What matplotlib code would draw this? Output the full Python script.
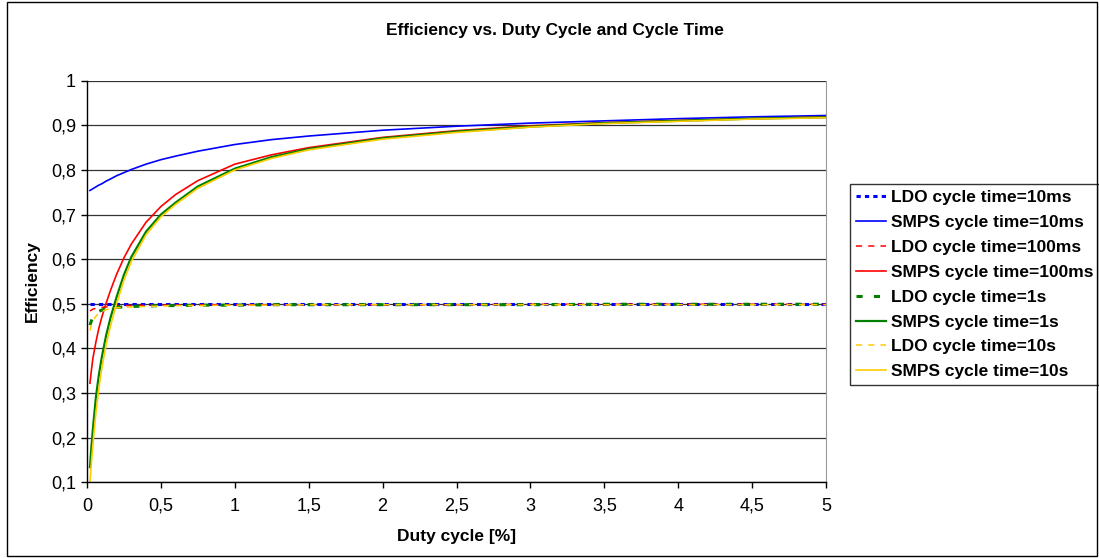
"""Efficiency vs. duty cycle for LDO and SMPS supplies at four cycle times.

Values are read off the original Excel chart; writes out.png.
"""

import matplotlib

matplotlib.use("Agg")
import matplotlib.pyplot as plt
from matplotlib.patches import Rectangle
from matplotlib.ticker import FuncFormatter, MultipleLocator

plt.rcParams["font.family"] = ["Liberation Sans", "DejaVu Sans"]

# duty cycle [%] shared by all series
duty = [0.02, 0.03, 0.04, 0.06, 0.08, 0.1, 0.13, 0.16, 0.2, 0.25, 0.3, 0.4, 0.5,
        0.6, 0.75, 1.0, 1.25, 1.5, 2.0, 2.5, 3.0, 3.5, 4.0, 4.5, 5.0]

ldo_10ms = [0.499, 0.499, 0.499, 0.499, 0.499, 0.499, 0.499, 0.499, 0.499, 0.499, 0.499, 0.499, 0.499,
            0.499, 0.499, 0.499, 0.499, 0.499, 0.499, 0.499, 0.499, 0.499, 0.499, 0.499, 0.499]
smps_10ms = [0.754, 0.756, 0.758, 0.762, 0.766, 0.769, 0.775, 0.780, 0.787, 0.794, 0.801, 0.813, 0.823,
             0.831, 0.842, 0.857, 0.868, 0.876, 0.889, 0.898, 0.905, 0.910, 0.915, 0.919, 0.922]
ldo_100ms = [0.484, 0.486, 0.488, 0.490, 0.491, 0.492, 0.493, 0.494, 0.495, 0.496, 0.496, 0.497, 0.497,
             0.497, 0.498, 0.498, 0.498, 0.498, 0.498, 0.498, 0.499, 0.499, 0.499, 0.499, 0.499]
smps_100ms = [0.322, 0.352, 0.378, 0.414, 0.445, 0.470, 0.502, 0.531, 0.566, 0.603, 0.634, 0.683, 0.718,
              0.745, 0.776, 0.813, 0.834, 0.850, 0.873, 0.888, 0.899, 0.906, 0.911, 0.915, 0.919]
ldo_1s = [0.452, 0.462, 0.470, 0.478, 0.483, 0.486, 0.489, 0.491, 0.492, 0.493, 0.494, 0.495, 0.496,
          0.496, 0.497, 0.497, 0.498, 0.498, 0.498, 0.498, 0.498, 0.499, 0.499, 0.499, 0.499]
smps_1s = [0.134, 0.180, 0.220, 0.290, 0.340, 0.380, 0.430, 0.470, 0.515, 0.565, 0.605, 0.662, 0.700,
           0.727, 0.763, 0.803, 0.829, 0.847, 0.871, 0.886, 0.897, 0.905, 0.910, 0.915, 0.918]
ldo_10s = [0.440, 0.453, 0.462, 0.472, 0.479, 0.483, 0.487, 0.489, 0.491, 0.492, 0.493, 0.494, 0.495,
           0.496, 0.496, 0.497, 0.497, 0.498, 0.498, 0.498, 0.498, 0.498, 0.498, 0.498, 0.498]
smps_10s = [0.100, 0.145, 0.185, 0.255, 0.310, 0.355, 0.410, 0.452, 0.500, 0.553, 0.595, 0.655, 0.695,
            0.723, 0.759, 0.800, 0.826, 0.845, 0.869, 0.884, 0.896, 0.904, 0.909, 0.914, 0.917]

labels = ["LDO cycle time=10ms", "SMPS cycle time=10ms",
          "LDO cycle time=100ms", "SMPS cycle time=100ms",
          "LDO cycle time=1s", "SMPS cycle time=1s",
          "LDO cycle time=10s", "SMPS cycle time=10s"]

BLUE, RED, GREEN, YELLOW = "#0000FF", "#FF0000", "#008000", "#FFCC00"

W, H = 1099, 558


def comma(v, _pos):
    return f"{v:g}".replace(".", ",")


def main() -> None:
    fig = plt.figure(figsize=(W / 100, H / 100), dpi=100)
    ax = fig.add_axes([87 / W, 1 - 482.3 / H, (826 - 87) / W, (482.3 - 80.7) / H])

    # (series, colour, linewidth, dashes or None)
    styles = [
        (ldo_10ms, BLUE, 2.2, (1.4, 1.35)),
        (smps_10ms, BLUE, 1.2, None),
        (ldo_100ms, RED, 1.1, (4, 4)),
        (smps_100ms, RED, 1.2, None),
        (ldo_1s, GREEN, 2.2, (2, 3.7)),
        (smps_1s, GREEN, 1.6, None),
        (ldo_10s, YELLOW, 1.1, (4, 4)),
        (smps_10s, YELLOW, 1.2, None),
    ]
    for (vals, col, lw, dash), lab in zip(styles, labels):
        if dash:
            ax.plot(duty, vals, color=col, lw=lw, dashes=dash, label=lab)
        else:
            ax.plot(duty, vals, color=col, lw=lw, label=lab)

    ax.set_xlim(0, 5)
    ax.set_ylim(0.1, 1)
    ax.xaxis.set_major_locator(MultipleLocator(0.5))
    ax.yaxis.set_major_locator(MultipleLocator(0.1))
    ax.xaxis.set_major_formatter(FuncFormatter(comma))
    ax.yaxis.set_major_formatter(FuncFormatter(comma))
    ax.tick_params(direction="out", length=4, width=1, labelsize=13, colors="black")
    ax.tick_params(axis="x", pad=7)
    ax.tick_params(axis="y", pad=4)
    ax.grid(axis="y", color="#333333", lw=0.9)
    ax.set_axisbelow(True)
    ax.spines["top"].set_visible(False)
    ax.spines["right"].set_color("#999999")
    for s in ("left", "bottom"):
        ax.spines[s].set_color("black")
        ax.spines[s].set_linewidth(1)

    bold = {"fontsize": 12.5, "fontweight": "bold", "ha": "center", "va": "center"}
    fig.text(457 / W, 1 - 537 / H, "Duty cycle [%]", **bold)
    fig.text(32 / W, 1 - 281 / H, "Efficiency", rotation=90, **bold)
    fig.text(555 / W, 1 - 31 / H, "Efficiency vs. Duty Cycle and Cycle Time", **bold)

    leg = ax.legend(loc="upper left", bbox_to_anchor=(850 / W, 1 - 184 / H),
                    bbox_transform=fig.transFigure, frameon=True, fancybox=False,
                    prop={"size": 12.5, "weight": "bold"}, handlelength=1.75,
                    handletextpad=0.25, labelspacing=0.56, borderpad=0.35, borderaxespad=0)
    leg.get_frame().set_edgecolor("black")
    leg.get_frame().set_linewidth(1)

    fig.patches.append(Rectangle((7 / W, 2 / H), (1097 - 7) / W, (556 - 2) / H,
                                 transform=fig.transFigure, fill=False,
                                 edgecolor="black", lw=1))

    fig.savefig("out.png", dpi=100)


if __name__ == "__main__":
    main()
